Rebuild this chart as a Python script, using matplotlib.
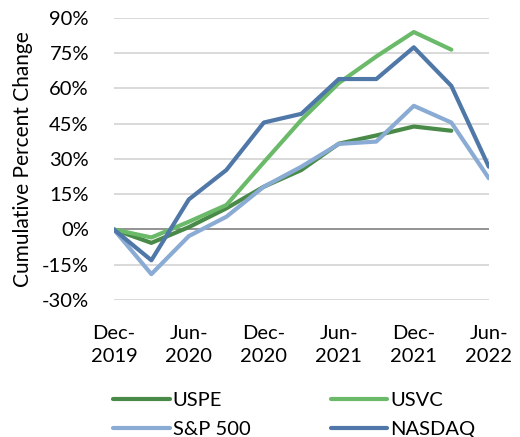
import matplotlib
matplotlib.use("Agg")
import matplotlib.pyplot as plt
from matplotlib.ticker import FuncFormatter

plt.rcParams['font.family'] = ['Lato', 'DejaVu Sans']

quarters = ["Dec-2019", "Mar-2020", "Jun-2020", "Sep-2020", "Dec-2020", "Mar-2021",
            "Jun-2021", "Sep-2021", "Dec-2021", "Mar-2022", "Jun-2022"]
tick_labels = ["Dec-\n2019", "Jun-\n2020", "Dec-\n2020", "Jun-\n2021", "Dec-\n2021", "Jun-\n2022"]

uspe = [0, -5.7, 1.0, 9.0, 18.2, 25.3, 36.5, 40.0, 43.8, 42.0]
usvc = [0, -3.4, 3.3, 10.4, 28.6, 46.6, 62.3, 73.6, 84.0, 76.5]
sp500 = [0, -19.0, -2.8, 5.4, 18.2, 26.7, 36.4, 37.4, 52.6, 45.5, 21.8]
nasdaq = [0, -13.1, 12.8, 25.3, 45.5, 49.2, 64.0, 64.0, 77.5, 61.1, 26.7]

c_uspe = "#4a8a48"
c_usvc = "#6aba6a"
c_sp = "#8aabd3"
c_nas = "#4f77a8"

fs = 14.5

fig = plt.figure(figsize=(5.2, 4.37), dpi=100)
ax = fig.add_axes([0.219, 0.3135, 0.721, 0.6455])

for yv in range(-30, 91, 15):
    ax.axhline(yv, color="#8a8a8a" if yv == 0 else "#cfcfcf", lw=1.3 if yv == 0 else 1.1, zorder=1)

lw = 3.0
l1, = ax.plot(range(len(uspe)), uspe, color=c_uspe, lw=lw, label="USPE", zorder=3, solid_capstyle="round")
l2, = ax.plot(range(len(usvc)), usvc, color=c_usvc, lw=lw, label="USVC", zorder=3, solid_capstyle="round")
l3, = ax.plot(range(len(sp500)), sp500, color=c_sp, lw=lw, label="S&P 500", zorder=3, solid_capstyle="round")
l4, = ax.plot(range(len(nasdaq)), nasdaq, color=c_nas, lw=lw, label="NASDAQ", zorder=3, solid_capstyle="round")

ax.set_xlim(0, len(quarters) - 1)
ax.set_ylim(-30, 90)
ax.set_yticks(range(-30, 91, 15))
ax.yaxis.set_major_formatter(FuncFormatter(lambda v, p: f"{int(v)}%"))
ax.set_xticks(range(0, len(quarters), 2))
ax.set_xticklabels(tick_labels, linespacing=1.45)
ax.tick_params(axis="both", length=0, labelsize=fs, colors="black")
ax.tick_params(axis="x", pad=18)
ax.tick_params(axis="y", pad=18)
for s in ax.spines.values():
    s.set_visible(False)
ax.set_ylabel("Cumulative Percent Change", fontsize=15, labelpad=6)

leg = fig.legend(handles=[l1, l3, l2, l4], ncol=2, loc="upper left",
                 bbox_to_anchor=(0.218, 0.104), frameon=False, fontsize=fs,
                 handlelength=2.8, handletextpad=0.15, columnspacing=4.0,
                 labelspacing=0.62, borderaxespad=0, borderpad=0)

fig.savefig("out.png", dpi=100)
